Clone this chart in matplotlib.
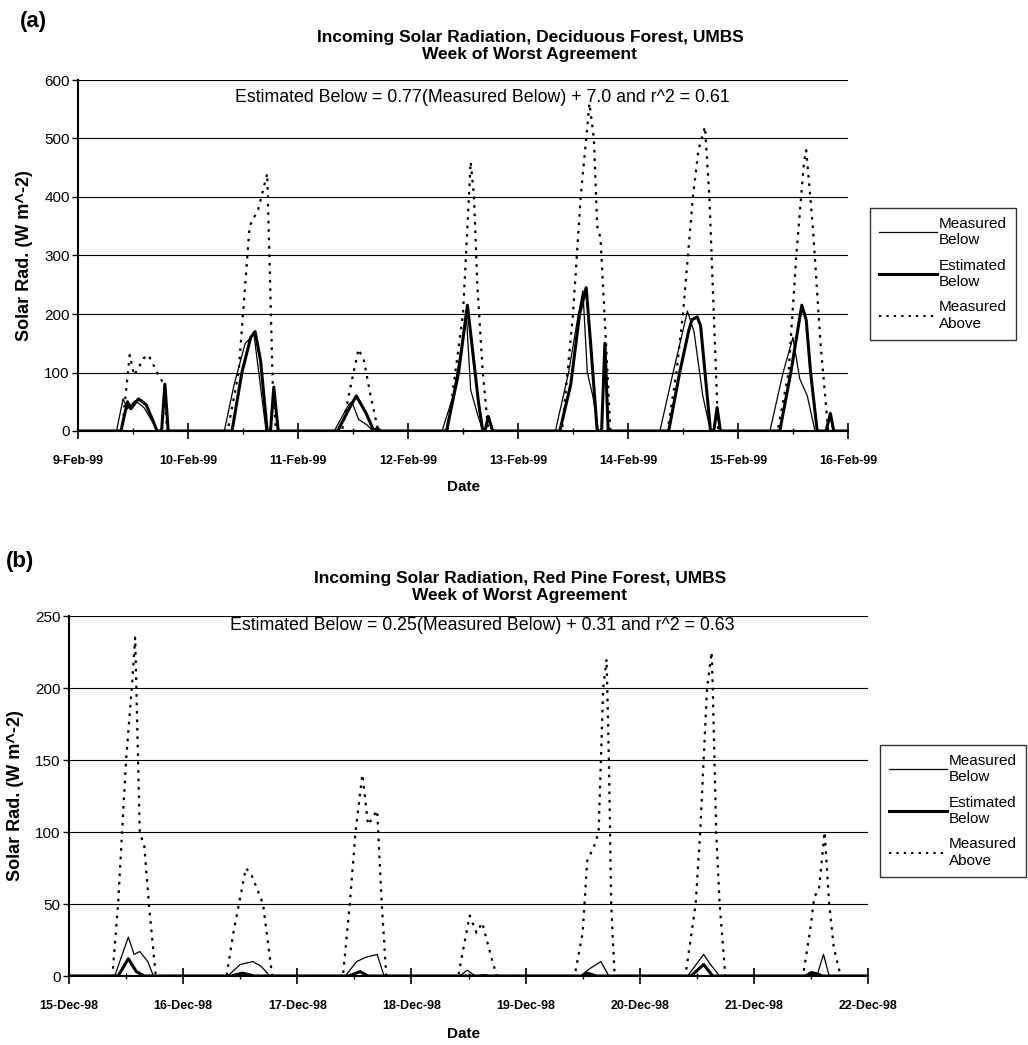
import matplotlib.pyplot as plt
from matplotlib.lines import Line2D

plt.rcParams['font.family'] = ['Liberation Sans', 'DejaVu Sans']

# x values are days since the first date on the axis

# (a) Deciduous forest, 9-16 Feb 1999
a_dates = ['9-Feb-99', '10-Feb-99', '11-Feb-99', '12-Feb-99',
           '13-Feb-99', '14-Feb-99', '15-Feb-99', '16-Feb-99']
a_mb_t = [0, 0.35, 0.41, 0.45, 0.52, 0.60, 0.68, 0.72,
          1.33, 1.42, 1.52, 1.60, 1.65, 1.71,
          2.33, 2.46, 2.49, 2.55, 2.63, 2.68,
          3.31, 3.41, 3.49, 3.53, 3.57, 3.63, 3.68,
          4.34, 4.46, 4.54, 4.59, 4.63, 4.68, 4.73,
          5.29, 5.41, 5.51, 5.54, 5.60, 5.68, 5.75,
          6.29, 6.41, 6.47, 6.50, 6.56, 6.63, 6.70, 7.0]
a_mb_v = [0, 0, 55, 38, 52, 40, 15, 0,
          0, 80, 150, 165, 90, 0,
          0, 45, 50, 20, 10, 0,
          0, 60, 150, 200, 70, 30, 0,
          0, 100, 190, 240, 100, 60, 0,
          0, 100, 180, 205, 170, 60, 0,
          0, 100, 140, 160, 90, 60, 0, 0]
a_eb_t = [0, 0.39, 0.45, 0.48, 0.55, 0.62, 0.72, 0.76, 0.79, 0.82,
          1.40, 1.49, 1.57, 1.61, 1.66, 1.72, 1.75, 1.78, 1.82,
          2.36, 2.47, 2.53, 2.62, 2.69, 2.72, 2.75,
          3.35, 3.46, 3.54, 3.58, 3.64, 3.68, 3.70, 3.73, 3.77,
          4.38, 4.48, 4.56, 4.62, 4.66, 4.72, 4.76, 4.79, 4.82,
          5.37, 5.47, 5.55, 5.58, 5.63, 5.66, 5.75, 5.78, 5.81, 5.84,
          6.38, 6.48, 6.58, 6.62, 6.66, 6.72, 6.80, 6.84, 6.87, 7.0]
a_eb_v = [0, 0, 50, 38, 55, 45, 0, 0, 80, 0,
          0, 100, 160, 170, 120, 0, 0, 75, 0,
          0, 40, 60, 30, 0, 5, 0,
          0, 100, 215, 150, 50, 0, 0, 25, 0,
          0, 80, 200, 245, 150, 0, 0, 150, 0,
          0, 100, 170, 190, 195, 180, 0, 0, 40, 0,
          0, 100, 215, 190, 100, 0, 0, 30, 0, 0]
a_ma_t = [0, 0.40, 0.47, 0.51, 0.60, 0.64, 0.72, 0.78, 0.81,
          1.36, 1.46, 1.52, 1.56, 1.64, 1.72, 1.74, 1.77, 1.80,
          2.40, 2.46, 2.55, 2.60, 2.66, 2.73,
          3.36, 3.50, 3.57, 3.60, 3.63, 3.68, 3.73,
          4.40, 4.50, 4.57, 4.65, 4.69, 4.72, 4.75, 4.80, 4.84,
          5.36, 5.44, 5.50, 5.59, 5.64, 5.70, 5.74, 5.78, 5.82,
          6.36, 6.46, 6.53, 6.60, 6.62, 6.68, 6.75, 6.82, 7.0]
a_ma_v = [0, 0, 130, 95, 125, 130, 100, 80, 0,
          0, 100, 250, 350, 380, 440, 300, 80, 0,
          0, 60, 140, 120, 60, 0,
          0, 200, 460, 400, 250, 100, 0,
          0, 200, 400, 560, 500, 350, 330, 150, 0,
          0, 100, 200, 400, 480, 520, 400, 200, 0,
          0, 100, 300, 460, 480, 350, 150, 0, 0]

# (b) Red pine forest, 15-22 Dec 1998
b_dates = ['15-Dec-98', '16-Dec-98', '17-Dec-98', '18-Dec-98',
           '19-Dec-98', '20-Dec-98', '21-Dec-98', '22-Dec-98']
b_mb_t = [0, 0.40, 0.52, 0.57, 0.62, 0.69, 0.74,
          1.39, 1.50, 1.61, 1.68, 1.76,
          2.42, 2.52, 2.60, 2.70, 2.76,
          3.42, 3.49, 3.56, 3.64, 3.70,
          4.48, 4.56, 4.66, 4.73,
          5.42, 5.56, 5.62, 5.70,
          6.44, 6.50, 6.56, 6.61, 6.66, 7.0]
b_mb_v = [0, 0, 27, 15, 17, 10, 0,
          0, 8, 10, 7, 0,
          0, 10, 13, 15, 0,
          0, 4, 0, 1, 0,
          0, 5, 10, 0,
          0, 15, 8, 0,
          0, 3, 2, 15, 0, 0]
b_eb_t = [0, 0.43, 0.52, 0.59, 0.66,
          1.42, 1.52, 1.62,
          2.45, 2.55, 2.62,
          4.50, 4.54, 4.62,
          5.45, 5.56, 5.64,
          6.46, 6.51, 6.57, 6.60, 7.0]
b_eb_v = [0, 0, 12, 3, 0,
          0, 2, 0,
          0, 3, 0,
          0, 2, 0,
          0, 8, 0,
          0, 2, 1, 0, 0]
b_ma_t = [0, 0.38, 0.43, 0.50, 0.55, 0.58, 0.59, 0.62, 0.66, 0.70, 0.76,
          1.38, 1.44, 1.55, 1.60, 1.70, 1.78,
          2.40, 2.46, 2.51, 2.57, 2.62, 2.70, 2.74, 2.78,
          3.41, 3.51, 3.57, 3.62, 3.71, 3.75,
          4.43, 4.50, 4.54, 4.60, 4.64, 4.68, 4.71, 4.73, 4.75, 4.78,
          5.40, 5.49, 5.53, 5.56, 5.59, 5.63, 5.64, 5.67, 5.70, 5.75,
          6.43, 6.49, 6.53, 6.57, 6.62, 6.66, 6.70, 6.76, 7.0]
b_ma_v = [0, 0, 50, 150, 200, 235, 200, 100, 90, 50, 0,
          0, 30, 75, 70, 50, 0,
          0, 50, 100, 140, 105, 115, 50, 0,
          0, 42, 30, 37, 10, 0,
          0, 30, 80, 90, 100, 200, 220, 150, 50, 0,
          0, 50, 100, 150, 200, 225, 200, 100, 50, 0,
          0, 30, 55, 60, 100, 50, 20, 0, 0]

W, H = 1028, 1045
fig = plt.figure(figsize=(W / 100, H / 100), dpi=100)

DOTS = (0, (1.2, 2.6))


def box(l, t, r, b):
    return [l / W, 1 - b / H, (r - l) / W, (b - t) / H]


def draw(ax, dates, mb_t, mb_v, eb_t, eb_v, ma_t, ma_v, ymax, ystep):
    ax.plot(ma_t, ma_v, color='black', lw=1.6, linestyle=DOTS)
    ax.plot(mb_t, mb_v, color='black', lw=0.9)
    ax.plot(eb_t, eb_v, color='black', lw=2.2)
    ax.set_xlim(0, 7)
    ax.set_ylim(0, ymax)
    ax.set_yticks(range(0, ymax + 1, ystep))
    ax.yaxis.grid(True, color='black', lw=0.8)
    ax.set_axisbelow(True)
    ax.set_xticks(range(8))
    ax.set_xticklabels(dates, fontsize=9, fontweight='bold')
    ax.set_xticks([i + 0.5 for i in range(7)], minor=True)
    ax.tick_params(axis='x', which='major', direction='inout', length=12,
                   width=1.2, pad=11)
    ax.tick_params(axis='x', which='minor', direction='inout', length=5,
                   width=1.0)
    ax.tick_params(axis='y', direction='out', length=4, width=1.0,
                   labelsize=11, pad=2)
    for s in ['top', 'right']:
        ax.spines[s].set_visible(False)
    ax.spines['left'].set_linewidth(1.5)
    ax.spines['bottom'].set_linewidth(1.5)
    ax.set_xlabel('Date', fontsize=11, fontweight='bold')
    ax.set_ylabel('Solar Rad. (W m^-2)', fontsize=13, fontweight='bold')


def legend(ax, x, y):
    handles = [Line2D([], [], color='black', lw=0.9),
               Line2D([], [], color='black', lw=2.2),
               Line2D([], [], color='black', lw=1.4, linestyle=DOTS)]
    labels = ['Measured\nBelow', 'Estimated\nBelow', 'Measured\nAbove']
    leg = ax.legend(handles, labels, loc='upper left',
                    bbox_to_anchor=(x / W, 1 - y / H),
                    bbox_transform=fig.transFigure, prop={'size': 11},
                    frameon=True, fancybox=False, edgecolor='black',
                    handlelength=3.8, handletextpad=0.1, labelspacing=0.75,
                    borderpad=0.6, borderaxespad=0)
    for t in leg.get_texts():
        t.set_linespacing(1.2)
    leg.get_frame().set_linewidth(1.0)


ax_a = fig.add_axes(box(78, 80, 848, 431))
draw(ax_a, a_dates, a_mb_t, a_mb_v, a_eb_t, a_eb_v, a_ma_t, a_ma_v, 600, 100)
ax_a.xaxis.set_label_coords((463 - 78) / 770, -(480 - 431) / 351)
ax_a.yaxis.set_label_coords(-(78 - 33) / 770, 0.5)
legend(ax_a, 870, 208)
fig.text(20 / W, 1 - 22 / H, '(a)', fontsize=16, fontweight='bold',
         ha='left', va='center')
fig.text(530 / W, 1 - 46 / H,
         'Incoming Solar Radiation, Deciduous Forest, UMBS\nWeek of Worst Agreement',
         fontsize=12.5, fontweight='bold', ha='center', va='center',
         linespacing=1.2)
ax_a.text((482 - 78) / 770, 1 - (97 - 80) / 351,
          'Estimated Below = 0.77(Measured Below) + 7.0 and r^2 = 0.61',
          transform=ax_a.transAxes, fontsize=12.8, ha='center', va='center')

ax_b = fig.add_axes(box(69, 616, 868, 976))
draw(ax_b, b_dates, b_mb_t, b_mb_v, b_eb_t, b_eb_v, b_ma_t, b_ma_v, 250, 50)
ax_b.xaxis.set_label_coords((463 - 69) / 799, -(1027 - 976) / 360)
ax_b.yaxis.set_label_coords(-(69 - 24) / 799, 0.5)
legend(ax_b, 880, 745)
fig.text(6 / W, 1 - 562 / H, '(b)', fontsize=16, fontweight='bold',
         ha='left', va='center')
fig.text(520 / W, 1 - 587 / H,
         'Incoming Solar Radiation, Red Pine Forest, UMBS\nWeek of Worst Agreement',
         fontsize=12.5, fontweight='bold', ha='center', va='center',
         linespacing=1.2)
ax_b.text((482 - 69) / 799, 1 - (626 - 616) / 360,
          'Estimated Below = 0.25(Measured Below) + 0.31 and r^2 = 0.63',
          transform=ax_b.transAxes, fontsize=12.8, ha='center', va='center')

fig.savefig('out.png', dpi=100)
